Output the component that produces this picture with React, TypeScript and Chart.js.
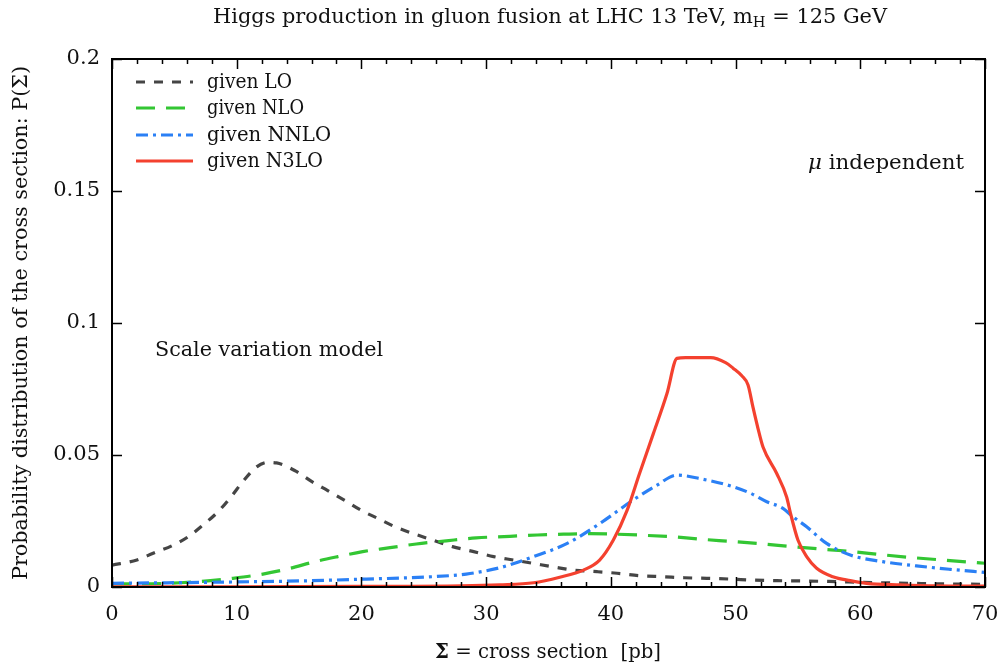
import React, { useEffect, useRef } from "react";
import { Chart, registerables } from "chart.js";

Chart.register(...registerables);

// ---- data ----
const loX = [0, 2, 3.3, 4.8, 6.1, 7.3, 8.5, 9.6, 10.5, 11.6, 12.5, 13.2, 14.7, 16, 17.3, 18.7, 20, 21.3, 22.7, 24.3, 25.7, 27.3, 29, 30.6, 32.2, 33.7, 35.4, 37, 38.9, 40.5, 42.3, 44.2, 45.9, 47.7, 49.6, 51.4, 53.3, 55, 57.5, 60, 65, 70];
const loY = [0.0083, 0.0102, 0.0128, 0.0156, 0.019, 0.0235, 0.0285, 0.0345, 0.04, 0.0455, 0.0472, 0.047, 0.044, 0.04, 0.0365, 0.0327, 0.029, 0.026, 0.0228, 0.02, 0.0178, 0.0153, 0.0134, 0.0115, 0.0102, 0.009, 0.0076, 0.0064, 0.0058, 0.0052, 0.0043, 0.0039, 0.0035, 0.0033, 0.003, 0.0026, 0.0024, 0.0023, 0.0021, 0.0018, 0.0013, 0.001];

const nloX = [0, 2, 5.5, 7.9, 9.7, 12.1, 14.3, 16.1, 18.1, 20.1, 22.3, 24.4, 26.8, 29.2, 31.9, 34.1, 36.2, 38.3, 40.5, 42.6, 45, 47.2, 49.8, 52.2, 54.1, 56.5, 59.2, 61.8, 64.5, 67.2, 70];
const nloY = [0.0012, 0.0012, 0.0016, 0.0024, 0.0033, 0.0049, 0.0071, 0.0094, 0.0115, 0.0134, 0.0149, 0.0163, 0.0175, 0.0186, 0.0192, 0.0197, 0.02, 0.0202, 0.02, 0.0196, 0.019, 0.0181, 0.0172, 0.0163, 0.0155, 0.0145, 0.0135, 0.0122, 0.011, 0.01, 0.009];

const nnloX = [0, 4.4, 9.7, 15.1, 20.4, 25.7, 28.4, 31.1, 33.8, 36.5, 39.1, 41.8, 43.7, 45.3, 47.2, 49.8, 51.2, 52.5, 53.8, 54.6, 55.7, 57.3, 59.2, 61.8, 64.5, 67.2, 70];
const nnloY = [0.0014, 0.0016, 0.0019, 0.0023, 0.003, 0.0039, 0.0049, 0.0073, 0.0115, 0.0165, 0.024, 0.033, 0.0386, 0.0424, 0.041, 0.038, 0.0355, 0.0323, 0.0298, 0.0266, 0.0228, 0.0165, 0.0121, 0.0096, 0.008, 0.0067, 0.0055];

const n3loX = [0, 10, 20, 28, 31.1, 33.8, 35.9, 37.8, 39.1, 40.2, 41.3, 42.3, 43.4, 44.5, 45.3, 46, 48, 49.2, 49.8, 50.5, 51, 51.4, 51.8, 52.2, 53.3, 54.1, 54.4, 55, 55.7, 56.5, 57.8, 59.2, 60.5, 63.2, 66, 70];
const n3loY = [0.0001, 0.0001, 0.0002, 0.0004, 0.0008, 0.0016, 0.0037, 0.0064, 0.0102, 0.0178, 0.029, 0.043, 0.058, 0.0733, 0.0866, 0.0869, 0.0869, 0.085, 0.0829, 0.08, 0.0765, 0.068, 0.06, 0.053, 0.043, 0.034, 0.028, 0.0178, 0.0115, 0.0071, 0.0039, 0.0024, 0.0014, 0.0008, 0.0004, 0.0003];

const seriesNames = ["given LO", "given NLO", "given NNLO", "given N3LO"];
const xTicks = [0, 10, 20, 30, 40, 50, 60, 70];
const yTicks = [0, 0.05, 0.1, 0.15, 0.2];

const FONT = "'DejaVu Serif', serif";
const colors = ["#454545", "#33c633", "#2b80f5", "#f4412f"];
const dashes = [[9, 9], [19, 11], [12, 5, 3, 5], []];

const toPts = (xs: number[], ys: number[]) => xs.map((x, i) => ({ x, y: ys[i] }));

// draw text horizontally scaled so it spans a given width
function fitText(ctx: CanvasRenderingContext2D, text: string, x: number, y: number, width: number) {
  const w = ctx.measureText(text).width;
  ctx.save();
  ctx.translate(x, y);
  ctx.scale(width / w, 1);
  ctx.fillText(text, 0, 0);
  ctx.restore();
}

const decorPlugin = {
  id: "decor",
  afterDraw(chart: any) {
    const ctx = chart.ctx as CanvasRenderingContext2D;
    const ca = chart.chartArea;
    const xs = chart.scales.x;
    const ys = chart.scales.y;
    ctx.save();
    // frame
    ctx.strokeStyle = "#000";
    ctx.lineWidth = 2;
    ctx.setLineDash([]);
    ctx.strokeRect(ca.left, ca.top, ca.right - ca.left, ca.bottom - ca.top);
    // ticks
    ctx.lineWidth = 1.5;
    for (let v = 0; v <= 70; v += 2) {
      const px = Math.round(xs.getPixelForValue(v)) + 0.5;
      const len = v % 10 === 0 ? 10 : 5;
      ctx.beginPath();
      ctx.moveTo(px, ca.bottom);
      ctx.lineTo(px, ca.bottom - len);
      ctx.moveTo(px, ca.top);
      ctx.lineTo(px, ca.top + len);
      ctx.stroke();
    }
    for (const v of yTicks) {
      const py = Math.round(ys.getPixelForValue(v)) + 0.5;
      ctx.beginPath();
      ctx.moveTo(ca.left, py);
      ctx.lineTo(ca.left + 10, py);
      ctx.moveTo(ca.right, py);
      ctx.lineTo(ca.right - 10, py);
      ctx.stroke();
    }
    ctx.fillStyle = "#111";
    ctx.textBaseline = "middle";
    ctx.textAlign = "left";

    // title with subscript
    const tSize = 20;
    const p1 = "Higgs production in gluon fusion at LHC 13 TeV, m";
    const p2 = "H";
    const p3 = " = 125 GeV";
    ctx.font = `${tSize}px ${FONT}`;
    const w1 = ctx.measureText(p1).width;
    const w3 = ctx.measureText(p3).width;
    ctx.font = `${tSize * 0.7}px ${FONT}`;
    const w2 = ctx.measureText(p2).width;
    const total = w1 + w2 + w3;
    const k = 674 / total;
    ctx.save();
    ctx.translate(213, 18);
    ctx.scale(k, 1);
    ctx.font = `${tSize}px ${FONT}`;
    ctx.fillText(p1, 0, 0);
    ctx.font = `${tSize * 0.7}px ${FONT}`;
    ctx.fillText(p2, w1, 5);
    ctx.font = `${tSize}px ${FONT}`;
    ctx.fillText(p3, w1 + w2, 0);
    ctx.restore();

    // x title
    ctx.font = `bold 20px ${FONT}`;
    const sig = "Σ";
    const ws = ctx.measureText(sig).width;
    ctx.font = `20px ${FONT}`;
    const rest = " = cross section  [pb]";
    const wr = ctx.measureText(rest).width;
    const kx = 226 / (ws + wr);
    ctx.save();
    ctx.translate(435, 653);
    ctx.scale(kx, 1);
    ctx.font = `bold 20px ${FONT}`;
    ctx.fillText(sig, 0, 0);
    ctx.font = `20px ${FONT}`;
    ctx.fillText(rest, ws, 0);
    ctx.restore();

    // y title
    ctx.save();
    ctx.translate(22, 580);
    ctx.rotate(-Math.PI / 2);
    ctx.font = `20px ${FONT}`;
    fitText(ctx, "Probability distribution of the cross section: P(Σ)", 0, 0, 514);
    ctx.restore();

    // annotations
    ctx.font = `20px ${FONT}`;
    fitText(ctx, "Scale variation model", 155, 351, 228);
    ctx.font = `italic 20px ${FONT}`;
    const wm = ctx.measureText("μ").width;
    ctx.font = `20px ${FONT}`;
    const wi = ctx.measureText(" independent").width;
    const km = 156 / (wm + wi);
    ctx.save();
    ctx.translate(808, 164);
    ctx.scale(km, 1);
    ctx.font = `italic 20px ${FONT}`;
    ctx.fillText("μ", 0, 0);
    ctx.font = `20px ${FONT}`;
    ctx.fillText(" independent", wm, 0);
    ctx.restore();

    // legend
    const rows = [82, 108, 135, 161];
    const legendW = [85, 97, 124, 116];
    for (let i = 0; i < 4; i++) {
      ctx.strokeStyle = colors[i];
      ctx.lineWidth = 3.2;
      ctx.setLineDash(dashes[i]);
      ctx.beginPath();
      ctx.moveTo(136, rows[i]);
      ctx.lineTo(193, rows[i]);
      ctx.stroke();
      ctx.setLineDash([]);
      ctx.font = `20px ${FONT}`;
      ctx.fillStyle = "#111";
      fitText(ctx, seriesNames[i], 207, rows[i] + 1, legendW[i]);
    }
    ctx.restore();
  },
};

export default function App() {
  const ref = useRef<HTMLCanvasElement>(null);
  useEffect(() => {
    document.body.style.margin = "0";
    const xsArr = [loX, nloX, nnloX, n3loX];
    const ysArr = [loY, nloY, nnloY, n3loY];
    const chart = new Chart(ref.current!, {
      type: "line",
      data: {
        datasets: seriesNames.map((name, i) => ({
          label: name,
          data: toPts(xsArr[i], ysArr[i]),
          borderColor: colors[i],
          borderWidth: 3.2,
          borderDash: dashes[i],
          pointRadius: 0,
          fill: false,
          cubicInterpolationMode: "monotone" as const,
          order: 4 - i,
        })),
      },
      options: {
        animation: false,
        responsive: true,
        maintainAspectRatio: false,
        layout: { padding: { left: 0, top: 59, right: 16, bottom: 0 } },
        plugins: { legend: { display: false }, tooltip: { enabled: false }, title: { display: false } },
        scales: {
          x: {
            type: "linear",
            min: 0,
            max: 70,
            grid: { display: false, drawTicks: false },
            border: { display: false },
            afterFit: (s: any) => { s.height = 79; s.paddingLeft = 0; s.paddingRight = 0; },
            afterBuildTicks: (s: any) => { s.ticks = xTicks.map((v) => ({ value: v })); },
            ticks: { padding: 15, color: "#111", font: { family: FONT, size: 21 } },
          },
          y: {
            type: "linear",
            min: 0,
            max: 0.2,
            grid: { display: false, drawTicks: false },
            border: { display: false },
            afterFit: (s: any) => { s.width = 112; s.paddingTop = 0; s.paddingBottom = 0; },
            afterBuildTicks: (s: any) => { s.ticks = yTicks.map((v) => ({ value: v })); },
            ticks: {
              padding: 12,
              color: "#111",
              font: { family: FONT, size: 21 },
              callback: (v: any) => String(Number(Number(v).toFixed(2))),
            },
          },
        },
      },
      plugins: [decorPlugin],
    });
    return () => chart.destroy();
  }, []);
  return (
    <div style={{ position: "fixed", left: 0, top: 0, width: 1001, height: 666, background: "#fff" }}>
      <canvas ref={ref} />
    </div>
  );
}
